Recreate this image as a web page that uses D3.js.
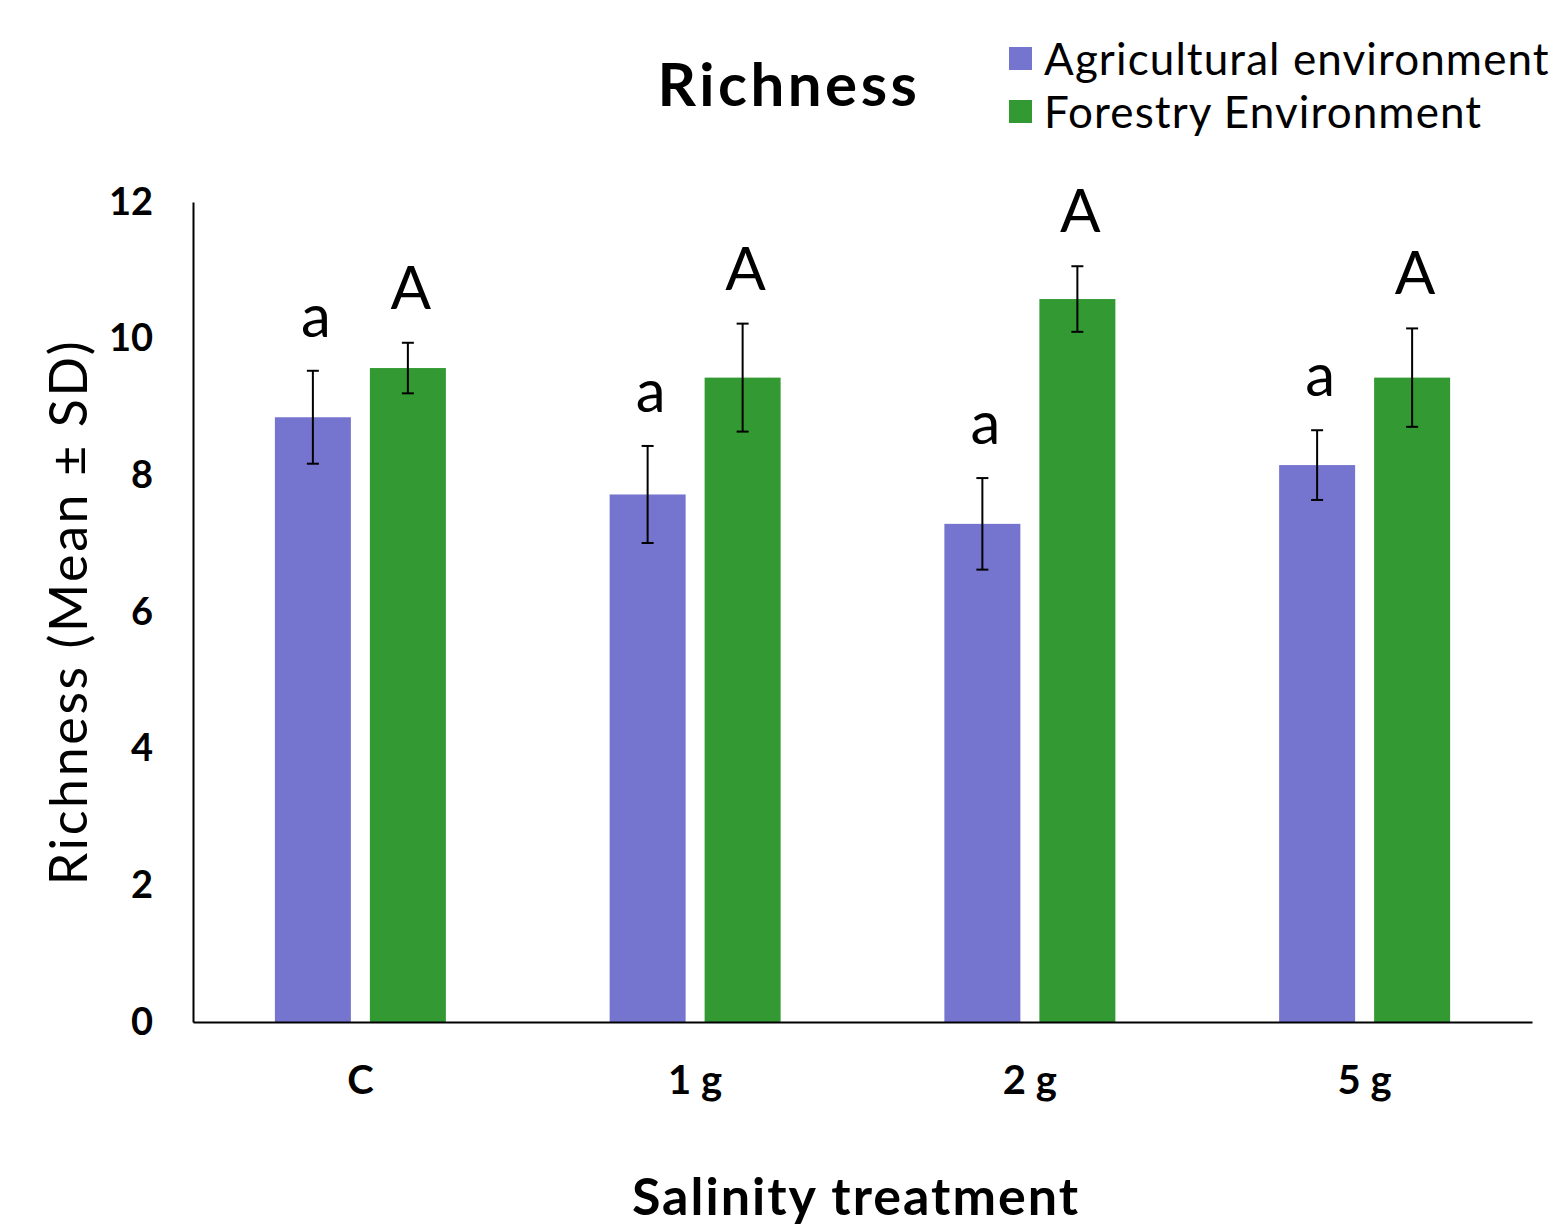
<!DOCTYPE html>
<html>
<head>
<meta charset="utf-8">
<script src="https://cdn.jsdelivr.net/npm/d3@7"></script>
<style>
  html, body { margin: 0; padding: 0; background: #ffffff; }
  svg { display: block; font-family: Lato, "Noto Sans", sans-serif; }
</style>
</head>
<body>
<svg id="chart" width="1551" height="1225"></svg>
<script>
// Salinity treatments on the x axis
const categories = ["C", "1 g", "2 g", "5 g"];
const seriesNames = ["Agricultural environment", "Forestry Environment"];

// Mean richness and standard deviation per treatment
const agriMean   = [8.85, 7.72, 7.29, 8.15];
const agriSD     = [0.68, 0.71, 0.67, 0.51];
const forestMean = [9.57, 9.43, 10.58, 9.43];
const forestSD   = [0.37, 0.79, 0.48, 0.72];

// Significance letters above each bar
const agriLetters   = ["a", "a", "a", "a"];
const forestLetters = ["A", "A", "A", "A"];

const yTicks = [0, 2, 4, 6, 8, 10, 12];

const colors = { agri: "#7575d0", forest: "#339933" };

const svg = d3.select("#chart");
const margin = { left: 193, right: 1532, top: 202, bottom: 1022 };

const x0 = d3.scaleBand().domain(categories).range([margin.left, margin.right]).padding(0);
const groupWidth = 171;
const x1 = d3.scaleBand().domain(seriesNames).range([0, groupWidth]).paddingInner(0.2).paddingOuter(0);
const y = d3.scaleLinear().domain([0, 12]).range([margin.bottom, margin.top]);

const rows = [];
categories.forEach((c, i) => {
  rows.push({ cat: c, series: seriesNames[0], mean: agriMean[i], sd: agriSD[i], letter: agriLetters[i], color: colors.agri });
  rows.push({ cat: c, series: seriesNames[1], mean: forestMean[i], sd: forestSD[i], letter: forestLetters[i], color: colors.forest });
});
const barX = d => x0(d.cat) + (x0.bandwidth() - groupWidth) / 2 + x1(d.series);
const barCx = d => barX(d) + x1.bandwidth() / 2;

// Bars
svg.append("g").selectAll("rect").data(rows).join("rect")
  .attr("x", barX)
  .attr("y", d => y(d.mean))
  .attr("width", x1.bandwidth())
  .attr("height", d => y(0) - y(d.mean))
  .attr("fill", d => d.color);

// Error bars (mean ± SD)
const eb = svg.append("g").attr("stroke", "#000").attr("stroke-width", 2);
rows.forEach(d => {
  const cx = barCx(d);
  eb.append("line").attr("x1", cx).attr("x2", cx).attr("y1", y(d.mean + d.sd)).attr("y2", y(d.mean - d.sd));
  eb.append("line").attr("x1", cx - 6).attr("x2", cx + 6).attr("y1", y(d.mean + d.sd)).attr("y2", y(d.mean + d.sd));
  eb.append("line").attr("x1", cx - 6).attr("x2", cx + 6).attr("y1", y(d.mean - d.sd)).attr("y2", y(d.mean - d.sd));
});

// Significance letters
svg.append("g").selectAll("text").data(rows).join("text")
  .attr("x", d => barCx(d) + 3)
  .attr("y", d => y(d.mean + d.sd) - 34)
  .attr("text-anchor", "middle")
  .attr("font-size", 60)
  .attr("fill", "#000")
  .text(d => d.letter);

// Y axis
const yAxis = svg.append("g").attr("transform", `translate(${margin.left},0)`)
  .call(d3.axisLeft(y).tickValues(yTicks).tickSize(0).tickPadding(40).tickFormat(d3.format("d")));
yAxis.select(".domain").attr("stroke", "#000").attr("stroke-width", 2);
yAxis.selectAll("text").attr("font-size", 38).attr("font-weight", "bold").attr("font-family", "Lato, sans-serif").attr("fill", "#000");

// X axis
const xAxis = svg.append("g").attr("transform", `translate(0,${margin.bottom})`)
  .call(d3.axisBottom(x0).tickSize(0).tickPadding(44));
xAxis.select(".domain").attr("stroke", "#000").attr("stroke-width", 2);
xAxis.selectAll("text").attr("font-size", 40).attr("font-weight", "bold").attr("font-family", "Lato, sans-serif").attr("fill", "#000");

// Titles
svg.append("text").attr("x", 789).attr("y", 106).attr("text-anchor", "middle")
  .attr("font-size", 60).attr("font-weight", "bold").attr("letter-spacing", 3.5).text("Richness");
svg.append("text").attr("x", 856).attr("y", 1215).attr("text-anchor", "middle")
  .attr("font-size", 52).attr("font-weight", "bold").attr("letter-spacing", 2).text("Salinity treatment");
svg.append("text").attr("transform", "translate(87,612) rotate(-90)").attr("text-anchor", "middle")
  .attr("font-size", 52).attr("letter-spacing", 2.6).text("Richness (Mean ± SD)");

// Legend
const legend = svg.append("g");
seriesNames.forEach((name, i) => {
  const g = legend.append("g").attr("transform", `translate(1009,${47 + i * 53})`);
  g.append("rect").attr("width", 23).attr("height", 23).attr("fill", i === 0 ? colors.agri : colors.forest);
  g.append("text").attr("x", 35).attr("y", 28).attr("font-size", 44).attr("letter-spacing", 1.1).text(name);
});
</script>
</body>
</html>
